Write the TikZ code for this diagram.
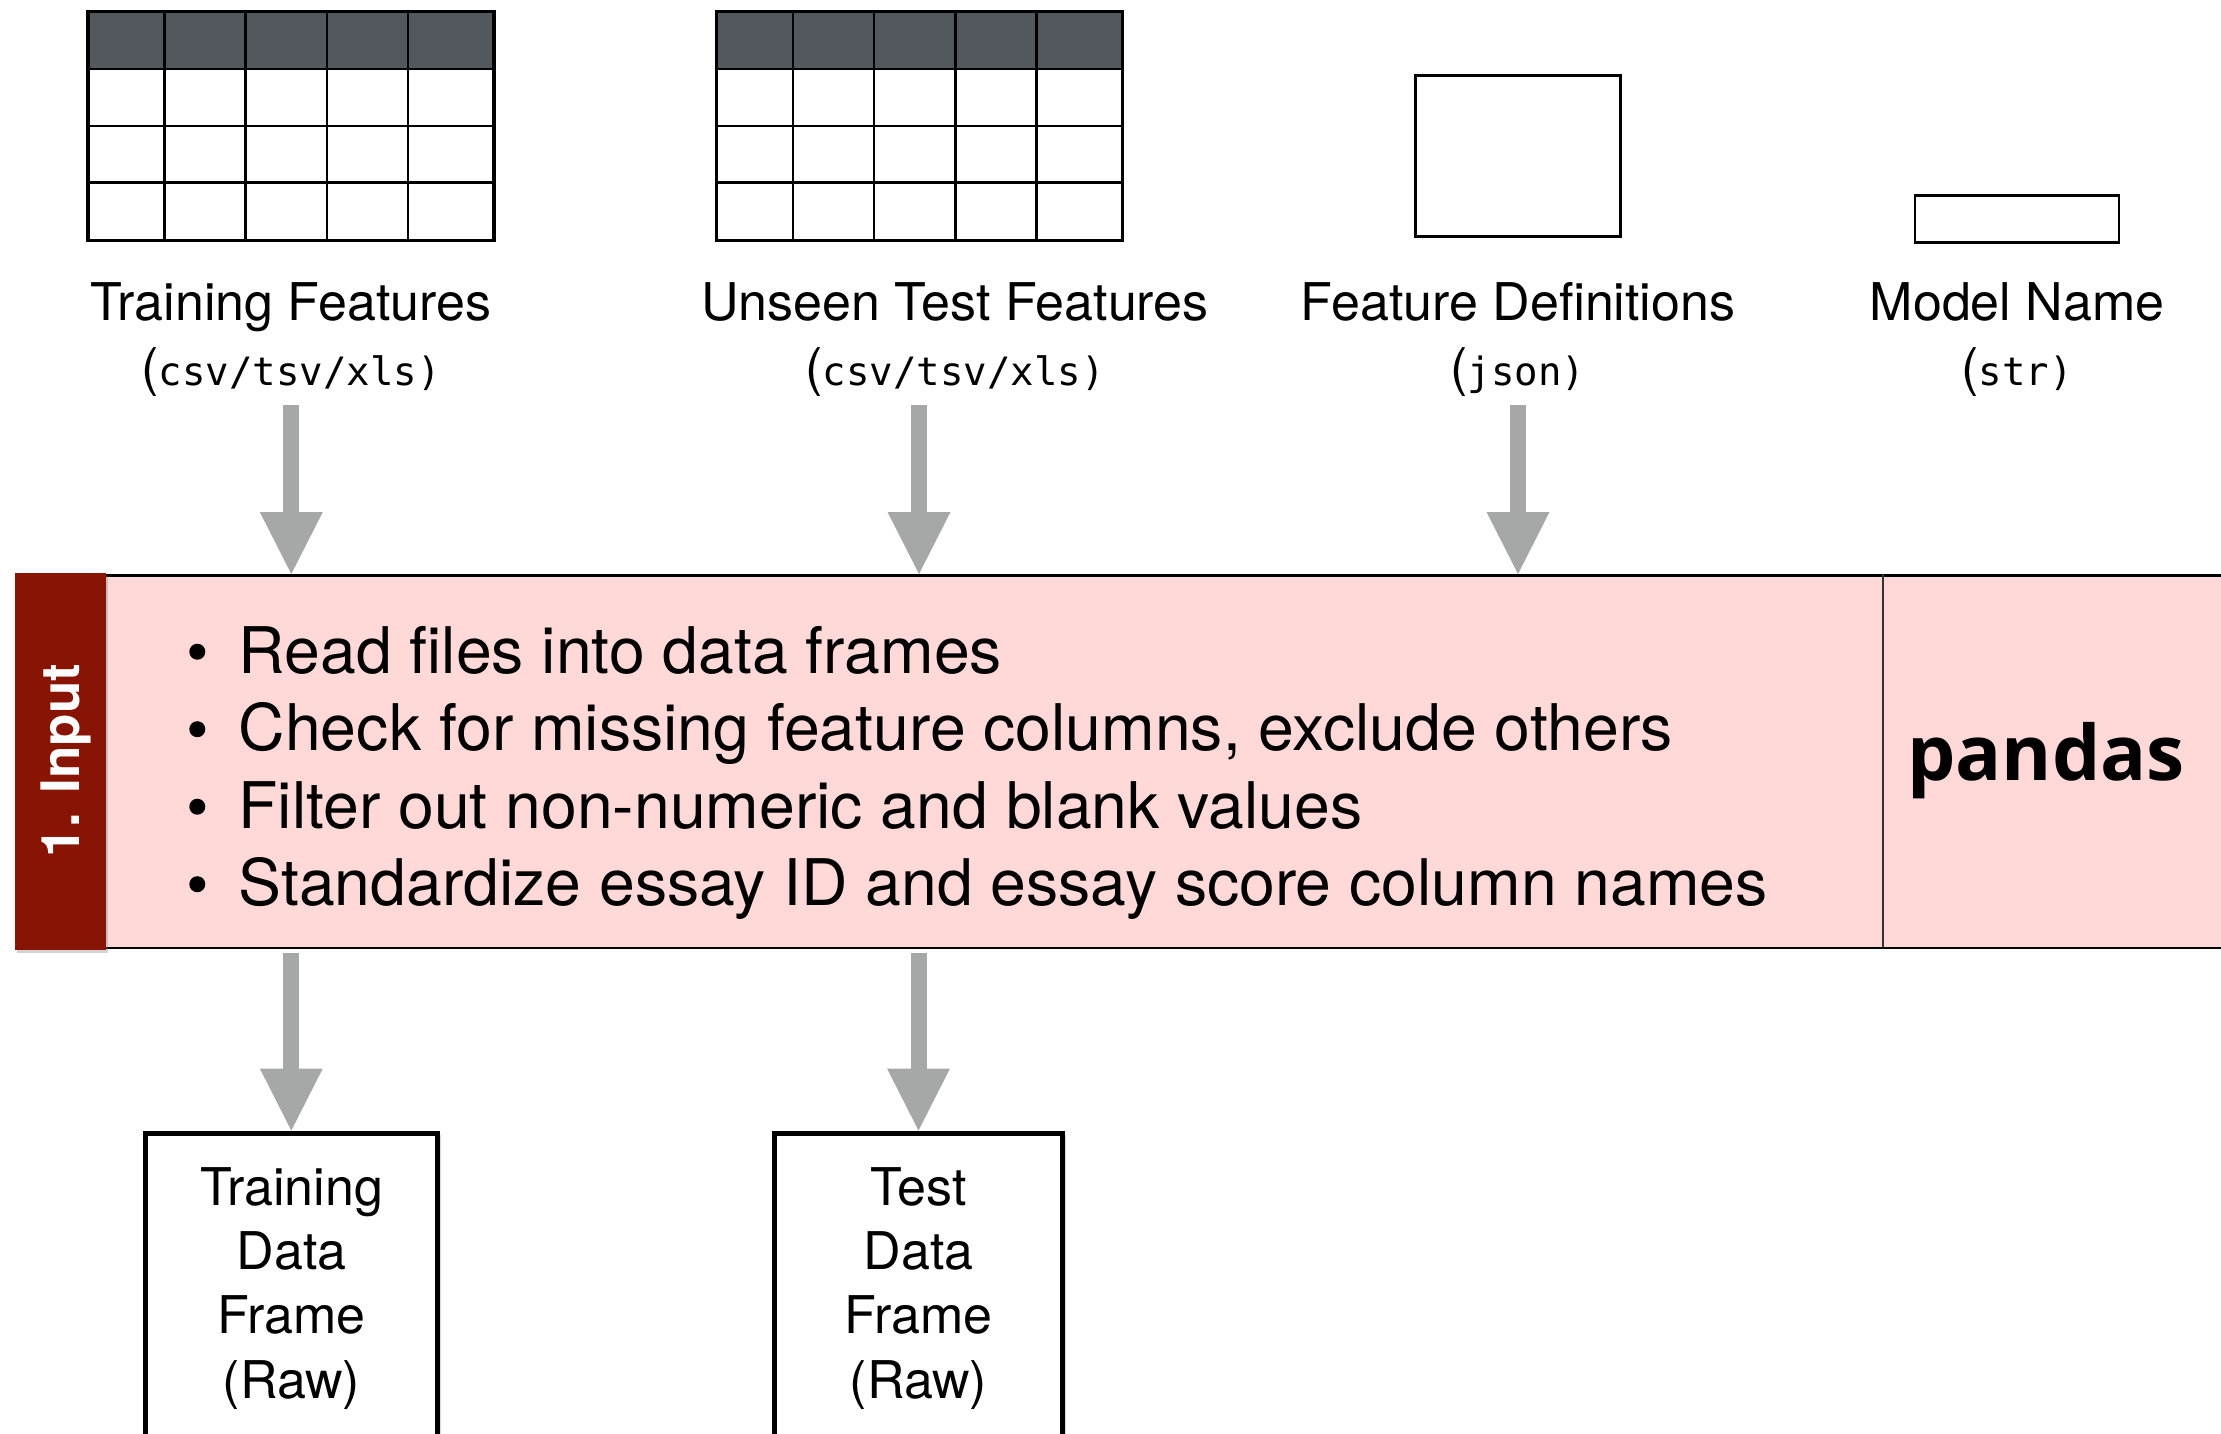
\documentclass[tikz,border=0pt]{standalone}
\usepackage{fontspec}
\setmainfont{TeX Gyre Heros}
\newfontfamily\codefont{DejaVu Sans Mono}
\newfontfamily\pandasfont{Open Sans}
\usetikzlibrary{arrows.meta,shadows}

\definecolor{hdrgrey}{RGB}{83,88,95}
\definecolor{bandpink}{RGB}{255,216,216}
\definecolor{tabred}{RGB}{136,20,4}
\definecolor{arrowgrey}{RGB}{165,168,166}

\tikzset{
  lbl/.style={font=\fontsize{52}{62}\selectfont, inner sep=0pt, anchor=base},
  bodytxt/.style={font=\fontsize{64.3}{77}\selectfont, inner sep=0pt, anchor=base west},
  bulletdot/.style={fill=black, draw=none},
  fatarrow/.style={draw=arrowgrey, line width=16pt,
    -{Triangle[width=63pt, length=62pt, line width=0pt]}},
  plainbox/.style={draw=black, line width=3pt, fill=white},
  dfbox/.style={draw=black, line width=5pt, fill=white,
    drop shadow={opacity=0.3, shadow xshift=3pt, shadow yshift=-2pt}},
  dftxt/.style={font=\fontsize{52}{64.1}\selectfont, inner sep=0pt, anchor=base, align=center},
}

% spreadsheet icon: dark header row above three white rows
\newcommand{\DataTable}[2]{%
  \fill[hdrgrey] (#1,#2) rectangle ++(406,57.2);
  \foreach \cx in {76.3,157.5,238.8,320} {
    \draw[line width=2.5pt] (#1+\cx,#2) -- (#1+\cx,#2+229);
  }
  \foreach \ry in {57.2,114.2,171.1} {
    \draw[line width=2.5pt] (#1,#2+\ry) -- (#1+406,#2+\ry);
  }
  \draw[line width=3.5pt] (#1,#2) rectangle ++(406,229);
}

\begin{document}
\begin{tikzpicture}[x=1pt, y=-1pt]
\useasboundingbox (0,0) rectangle (2221,1433);
\clip (0,0) rectangle (2221,1433);

% ---- inputs ----
\DataTable{88}{11.6}
\DataTable{716.5}{11.6}
\node[plainbox, minimum width=205pt, minimum height=161pt, inner sep=0pt] (featdef) at (1518,155.5) {};
\node[plainbox, line width=2.5pt, minimum width=204pt, minimum height=47pt, inner sep=0pt] (modelname) at (2017,219) {};

\node[lbl] (trainlbl) at (291,320) {Training Features};
\node[lbl] (trainfmt) at (291,385) {(\fontsize{39}{40}\codefont csv/tsv/xls)};
\node[lbl] (testlbl) at (955,320) {Unseen Test Features};
\node[lbl] (testfmt) at (955,385) {(\fontsize{39}{40}\codefont csv/tsv/xls)};
\node[lbl] (deflbl) at (1518,320) {Feature Definitions};
\node[lbl] (deffmt) at (1518,385) {(\fontsize{39}{40}\codefont json)};
\node[lbl] (namelbl) at (2017,320) {Model Name};
\node[lbl] (namefmt) at (2017,385) {(\fontsize{39}{40}\codefont str)};

% ---- stage band ----
\node[draw=black, line width=2.5pt, fill=bandpink, minimum width=2240pt, minimum height=372.5pt,
      inner sep=0pt, anchor=north west] (band) at (15,574) {};
\coordinate (divtop) at (1882.6,574);
\coordinate (divbot) at (1882.6,946.5);
\draw[line width=2pt, black!80] (divtop) -- (divbot);

\node[fill=tabred, draw=none, minimum width=91pt, minimum height=377pt, inner sep=0pt,
      anchor=north west, drop shadow={opacity=0.35, shadow xshift=1.5pt, shadow yshift=-3pt}]
      (tab) at (15,573) {};
\node[font=\fontsize{53}{60}\selectfont\bfseries, text=white, rotate=90, anchor=base, inner sep=0pt]
      (stagename) at (79.5,760.5) {1. Input};

\foreach \i/\yb/\t in {1/673.3/Read files into data frames,
                       2/750.8/Check for missing feature columns{,} exclude others,
                       3/828.3/Filter out non-numeric and blank values,
                       4/905.8/Standardize essay ID and essay score column names} {
  \fill[bulletdot] (197.3,\yb-21.6) circle (8pt);
  \node[bodytxt] (step\i) at (238.5,\yb) {\t};
}

\node[font=\fontsize{76.5}{80}\pandasfont\bfseries, anchor=base, inner sep=0pt] (pandas) at (2046,780) {pandas};

% ---- outputs ----
\node[dfbox, minimum width=292pt, minimum height=330pt, inner sep=0pt, anchor=north] (traindf) at (291.5,1130.5) {};
\node[dfbox, minimum width=288pt, minimum height=330pt, inner sep=0pt, anchor=north] (testdf) at (918.5,1130.5) {};
\node[dftxt] (traindftxt) at (291.5,1398) {Training\\Data\\Frame\\(Raw)};
\node[dftxt] (testdftxt) at (918.5,1398) {Test\\Data\\Frame\\(Raw)};

% ---- connectors ----
\coordinate (in1) at (291.3,405);
\coordinate (in2) at (919,405);
\coordinate (in3) at (1518,405);
\coordinate (out1) at (291.3,953);
\coordinate (out2) at (918.5,953);
\draw[fatarrow] (in1) -- (in1 |- band.north);
\draw[fatarrow] (in2) -- (in2 |- band.north);
\draw[fatarrow] (in3) -- (in3 |- band.north);
\draw[fatarrow] (out1) -- (out1 |- traindf.north);
\draw[fatarrow] (out2) -- (out2 |- testdf.north);
\end{tikzpicture}
\end{document}
